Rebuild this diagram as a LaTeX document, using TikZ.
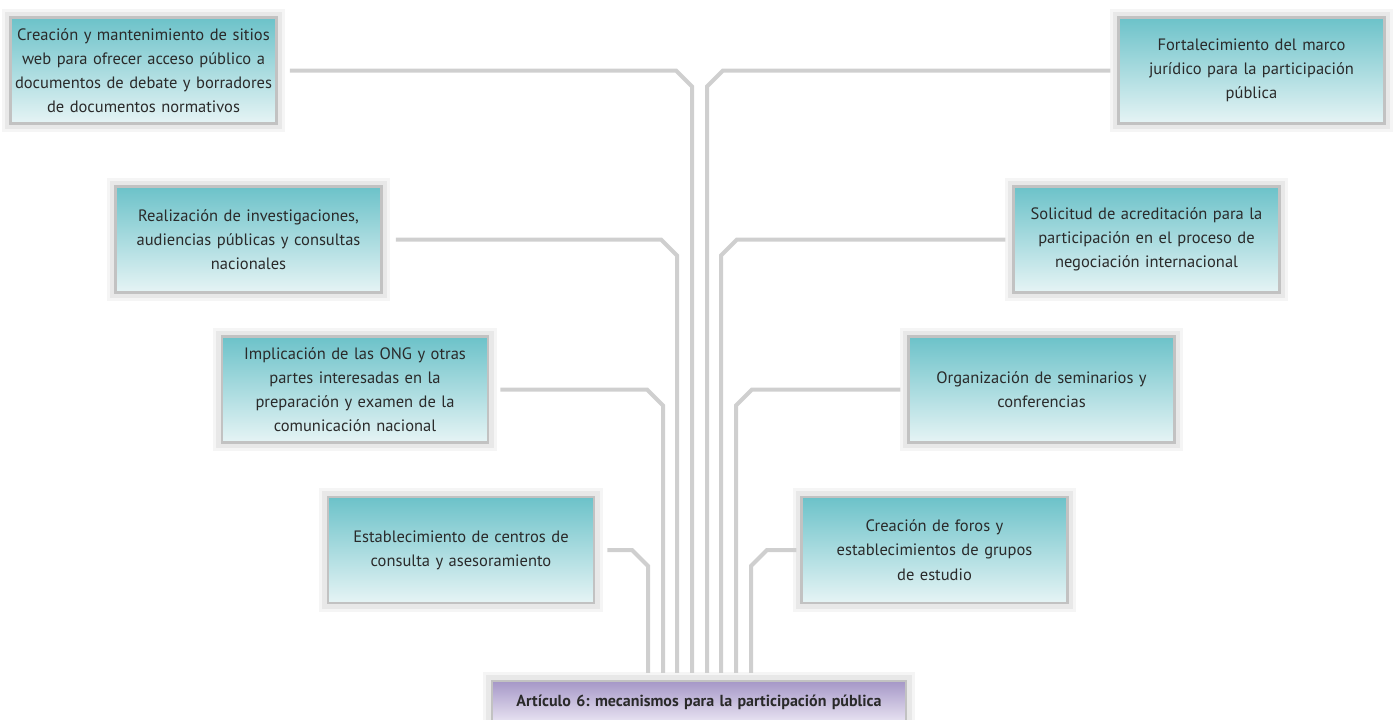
\documentclass[tikz,border=0pt]{standalone}
\usepackage{fontspec}
\setmainfont{PT Sans}
\usetikzlibrary{backgrounds}
\frenchspacing
\definecolor{tealtop}{HTML}{6CC2C9}
\definecolor{tealbot}{HTML}{E6F4F5}
\definecolor{purtop}{HTML}{A597C7}
\definecolor{purbot}{HTML}{EAE5F3}
\definecolor{conn}{HTML}{CFCFCF}
\definecolor{txt}{HTML}{2A2A2A}
\definecolor{rim}{HTML}{C2C2C2}
\tikzset{
  item/.style={rectangle, draw=rim, line width=2.5pt, top color=tealtop, bottom color=tealbot,
    minimum width=266pt, minimum height=106pt, text width=264pt, align=center, inner sep=0pt,
    font=\fontsize{16.5}{24.2}\selectfont, text=txt},
  mainbox/.style={item, top color=purtop, bottom color=purbot, minimum width=414pt, minimum height=42pt,
    text width=410pt, font=\fontsize{16}{19}\selectfont\bfseries},
  wire/.style={draw=conn, line width=4pt},
  haloA/.style={draw=black!4, line width=15pt},
  haloB/.style={draw=black!9, line width=9pt},
}
\begin{document}
\begin{tikzpicture}[x=1pt,y=-1pt]
\useasboundingbox (0,0) rectangle (1393,720);
\node[item] (tl) at (143.5,70.5) {Creación y mantenimiento de sitios\\web para ofrecer acceso público a\\documentos de debate y borradores\\de documentos normativos};
\node[item] (tr) at (1251.5,70.5) {Fortalecimiento del marco\\jurídico para la participación\\pública};
\node[item] (l2) at (248.5,239.5) {Realización de investigaciones,\\audiencias públicas y consultas\\nacionales};
\node[item] (r2) at (1146.5,239.5) {Solicitud de acreditación para la\\participación en el proceso de\\negociación internacional};
\node[item] (l3) at (355,389.5) {Implicación de las ONG y otras\\partes interesadas en la\\preparación y examen de la\\comunicación nacional};
\node[item] (r3) at (1041.5,389.5) {Organización de seminarios y\\conferencias};
\node[item] (l4) at (461,550) {Establecimiento de centros de\\consulta y asesoramiento};
\node[item] (r4) at (934.5,550) {Creación de foros y\\establecimientos de grupos\\de estudio};
\node[mainbox] (art) at (699,702) {Artículo 6: mecanismos para la participación pública};
\begin{scope}[on background layer]
\foreach \n in {tl,tr,l2,r2,l3,r3,l4,r4,art}{
  \draw[haloA] (\n.north west) rectangle (\n.south east);
  \draw[haloB] (\n.north west) rectangle (\n.south east);
}
\end{scope}
\coordinate (bot) at ([yshift=7pt]art.north);
\draw[wire] ([xshift=12pt]tl.east) -- (676,0 |- tl.east) -- ++(16,16) -- (692,0 |- bot);
\draw[wire] ([xshift=-7pt]tr.west) -- (723,0 |- tr.west) -- ++(-16,16) -- (707,0 |- bot);
\draw[wire] ([xshift=13pt]l2.east) -- (661,0 |- l2.east) -- ++(16,16) -- (677,0 |- bot);
\draw[wire] ([xshift=-7pt]r2.west) -- (737,0 |- r2.west) -- ++(-16,16) -- (721,0 |- bot);
\draw[wire] ([xshift=11pt]l3.east) -- (647,0 |- l3.east) -- ++(16,16) -- (663,0 |- bot);
\draw[wire] ([xshift=-7pt]r3.west) -- (752,0 |- r3.west) -- ++(-16,16) -- (736,0 |- bot);
\draw[wire] ([xshift=12pt]l4.east) -- (632,0 |- l4.east) -- ++(16,16) -- (648,0 |- bot);
\draw[wire] ([xshift=-4pt]r4.west) -- (767,0 |- r4.west) -- ++(-16,16) -- (751,0 |- bot);
\end{tikzpicture}
\end{document}
